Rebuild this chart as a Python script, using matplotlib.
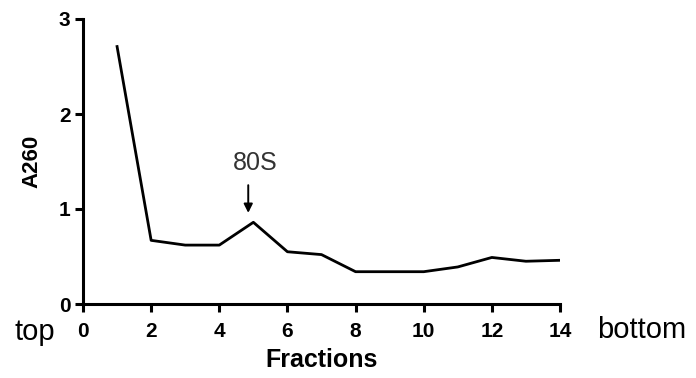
import matplotlib
matplotlib.use("Agg")
import matplotlib.pyplot as plt

plt.rcParams['font.family'] = ['Liberation Sans', 'DejaVu Sans']

# fraction number vs A260
fractions = [1, 2, 3, 4, 5, 6, 7, 8, 9, 10, 11, 12, 13, 14]
a260 = [2.71, 0.67, 0.62, 0.62, 0.86, 0.55, 0.52, 0.34, 0.34, 0.34, 0.39, 0.49, 0.45, 0.46]
xticks = [0, 2, 4, 6, 8, 10, 12, 14]
yticks = [0, 1, 2, 3]

fig = plt.figure(figsize=(6.96, 3.78), dpi=100)
ax = fig.add_axes([83 / 696, 74 / 378, 477 / 696, 285 / 378])

ax.plot(fractions, a260, color='black', lw=2.0)

ax.set_xlim(0, 14)
ax.set_ylim(0, 3)
ax.set_xticks(xticks)
ax.set_yticks(yticks)
ax.spines['top'].set_visible(False)
ax.spines['right'].set_visible(False)
for s in ['left', 'bottom']:
    ax.spines[s].set_linewidth(2.2)
ax.tick_params(width=2.2, length=6, labelsize=15)
ax.tick_params(axis='x', pad=7)
ax.tick_params(axis='y', pad=3)
for lab in ax.get_xticklabels() + ax.get_yticklabels():
    lab.set_fontweight('bold')

ax.set_xlabel('Fractions', fontsize=18, fontweight='bold', labelpad=5)
ax.set_ylabel('A260', fontsize=16, fontweight='bold', labelpad=12)

# top / bottom labels beside the x axis
ax.text(-0.059, -0.097, 'top', transform=ax.transAxes, fontsize=21,
        ha='right', va='center')
ax.text(1.078, -0.09, 'bottom', transform=ax.transAxes, fontsize=21,
        ha='left', va='center')

# 80S peak arrow
ax.annotate('', xy=(4.85, 0.93), xytext=(4.85, 1.28),
            arrowprops=dict(arrowstyle='-|>', color='black', lw=1.4,
                            mutation_scale=13))
ax.text(5.05, 1.48, '80S', fontsize=18, color='#333333', ha='center', va='center')

fig.savefig('out.png', dpi=100)
